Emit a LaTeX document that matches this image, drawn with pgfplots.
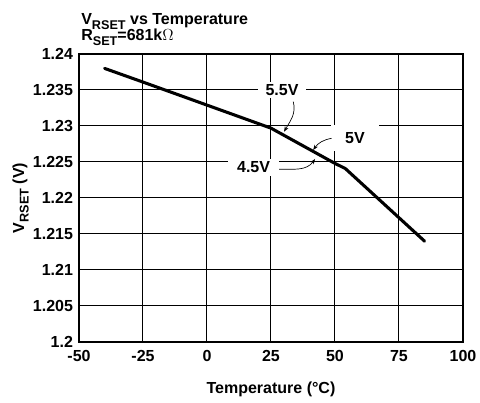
\documentclass[border=0pt]{standalone}
\usepackage{pgfplots}
\pgfplotsset{compat=1.18}
\usepackage{fontspec}
\setmainfont{Liberation Sans}
\usetikzlibrary{arrows.meta}
\newcommand\sub[1]{\raisebox{-0.28em}{\fontsize{9.5}{10}\selectfont #1}}
\begin{document}
\begin{tikzpicture}
\useasboundingbox (-59.25pt,-45.75pt) rectangle (300.75pt,256.5pt);
\begin{axis}[
  at={(0pt,0pt)}, anchor=south west,
  scale only axis, width=288pt, height=216pt,
  xmin=-50, xmax=100, ymin=1.2, ymax=1.24,
  xtick={-50,-25,0,25,50,75,100},
  ytick={1.2,1.205,1.21,1.215,1.22,1.225,1.23,1.235,1.24},
  yticklabels={1.2,1.205,1.21,1.215,1.22,1.225,1.23,1.235,1.24},
  grid=major,
  major grid style={black, line width=0.75pt},
  axis line style={black, line width=1pt},
  tick style={draw=none},
  font=\bfseries\fontsize{12}{14}\selectfont,
  /pgf/number format/assume math mode=true,
  xticklabel style={yshift=-3pt},
  yticklabel style={xshift=-1pt},
  xlabel={Temperature (°C)},
  ylabel={V\sub{RSET} (V)},
  xlabel style={at={(axis description cs:0.5,-0.165)}, anchor=center},
  ylabel style={at={(axis description cs:-0.152,0.5)}, anchor=center},
  clip=false,
]
\addplot[black, line width=2.3pt, line join=round, line cap=round] coordinates {
  (-40,1.2380) (-25,1.2361) (0,1.2329) (25,1.2297) (50,1.2248) (54,1.2241) (85,1.2140)
};
\node[fill=white, inner xsep=5.7pt, inner ysep=1.8pt] at (axis cs:29.3,1.2350) {5.5V};
\node[fill=white, inner xsep=10.6pt, inner ysep=5.8pt] at (axis cs:57.8,1.22833) {5V};
\node[fill=white, inner xsep=6.8pt, inner ysep=2.5pt] at (axis cs:18.2,1.22424) {4.5V};
\draw[black, line width=0.5pt, -{Stealth[length=4pt,width=3pt]}] (axis cs:33.7,1.23338) to[out=-75,in=60] (axis cs:30.1,1.22921);
\draw[black, line width=0.5pt, -{Stealth[length=4pt,width=3pt]}] (axis cs:48.7,1.22829) to[out=190,in=55] (axis cs:41.5,1.22667);
\draw[black, line width=0.5pt, -{Stealth[length=4pt,width=3pt]}] (axis cs:28.2,1.22400) to[out=0,in=-125] (axis cs:42.2,1.22542);
\end{axis}
\node[anchor=base west, font=\bfseries\fontsize{12}{14}\selectfont, inner sep=0pt] at (1.5pt,238pt) {V\sub{RSET} vs Temperature};
\node[anchor=base west, font=\bfseries\fontsize{12}{14}\selectfont, inner sep=0pt] at (1.5pt,226pt) {R\sub{SET}=681k$\Omega$};
\end{tikzpicture}
\end{document}
